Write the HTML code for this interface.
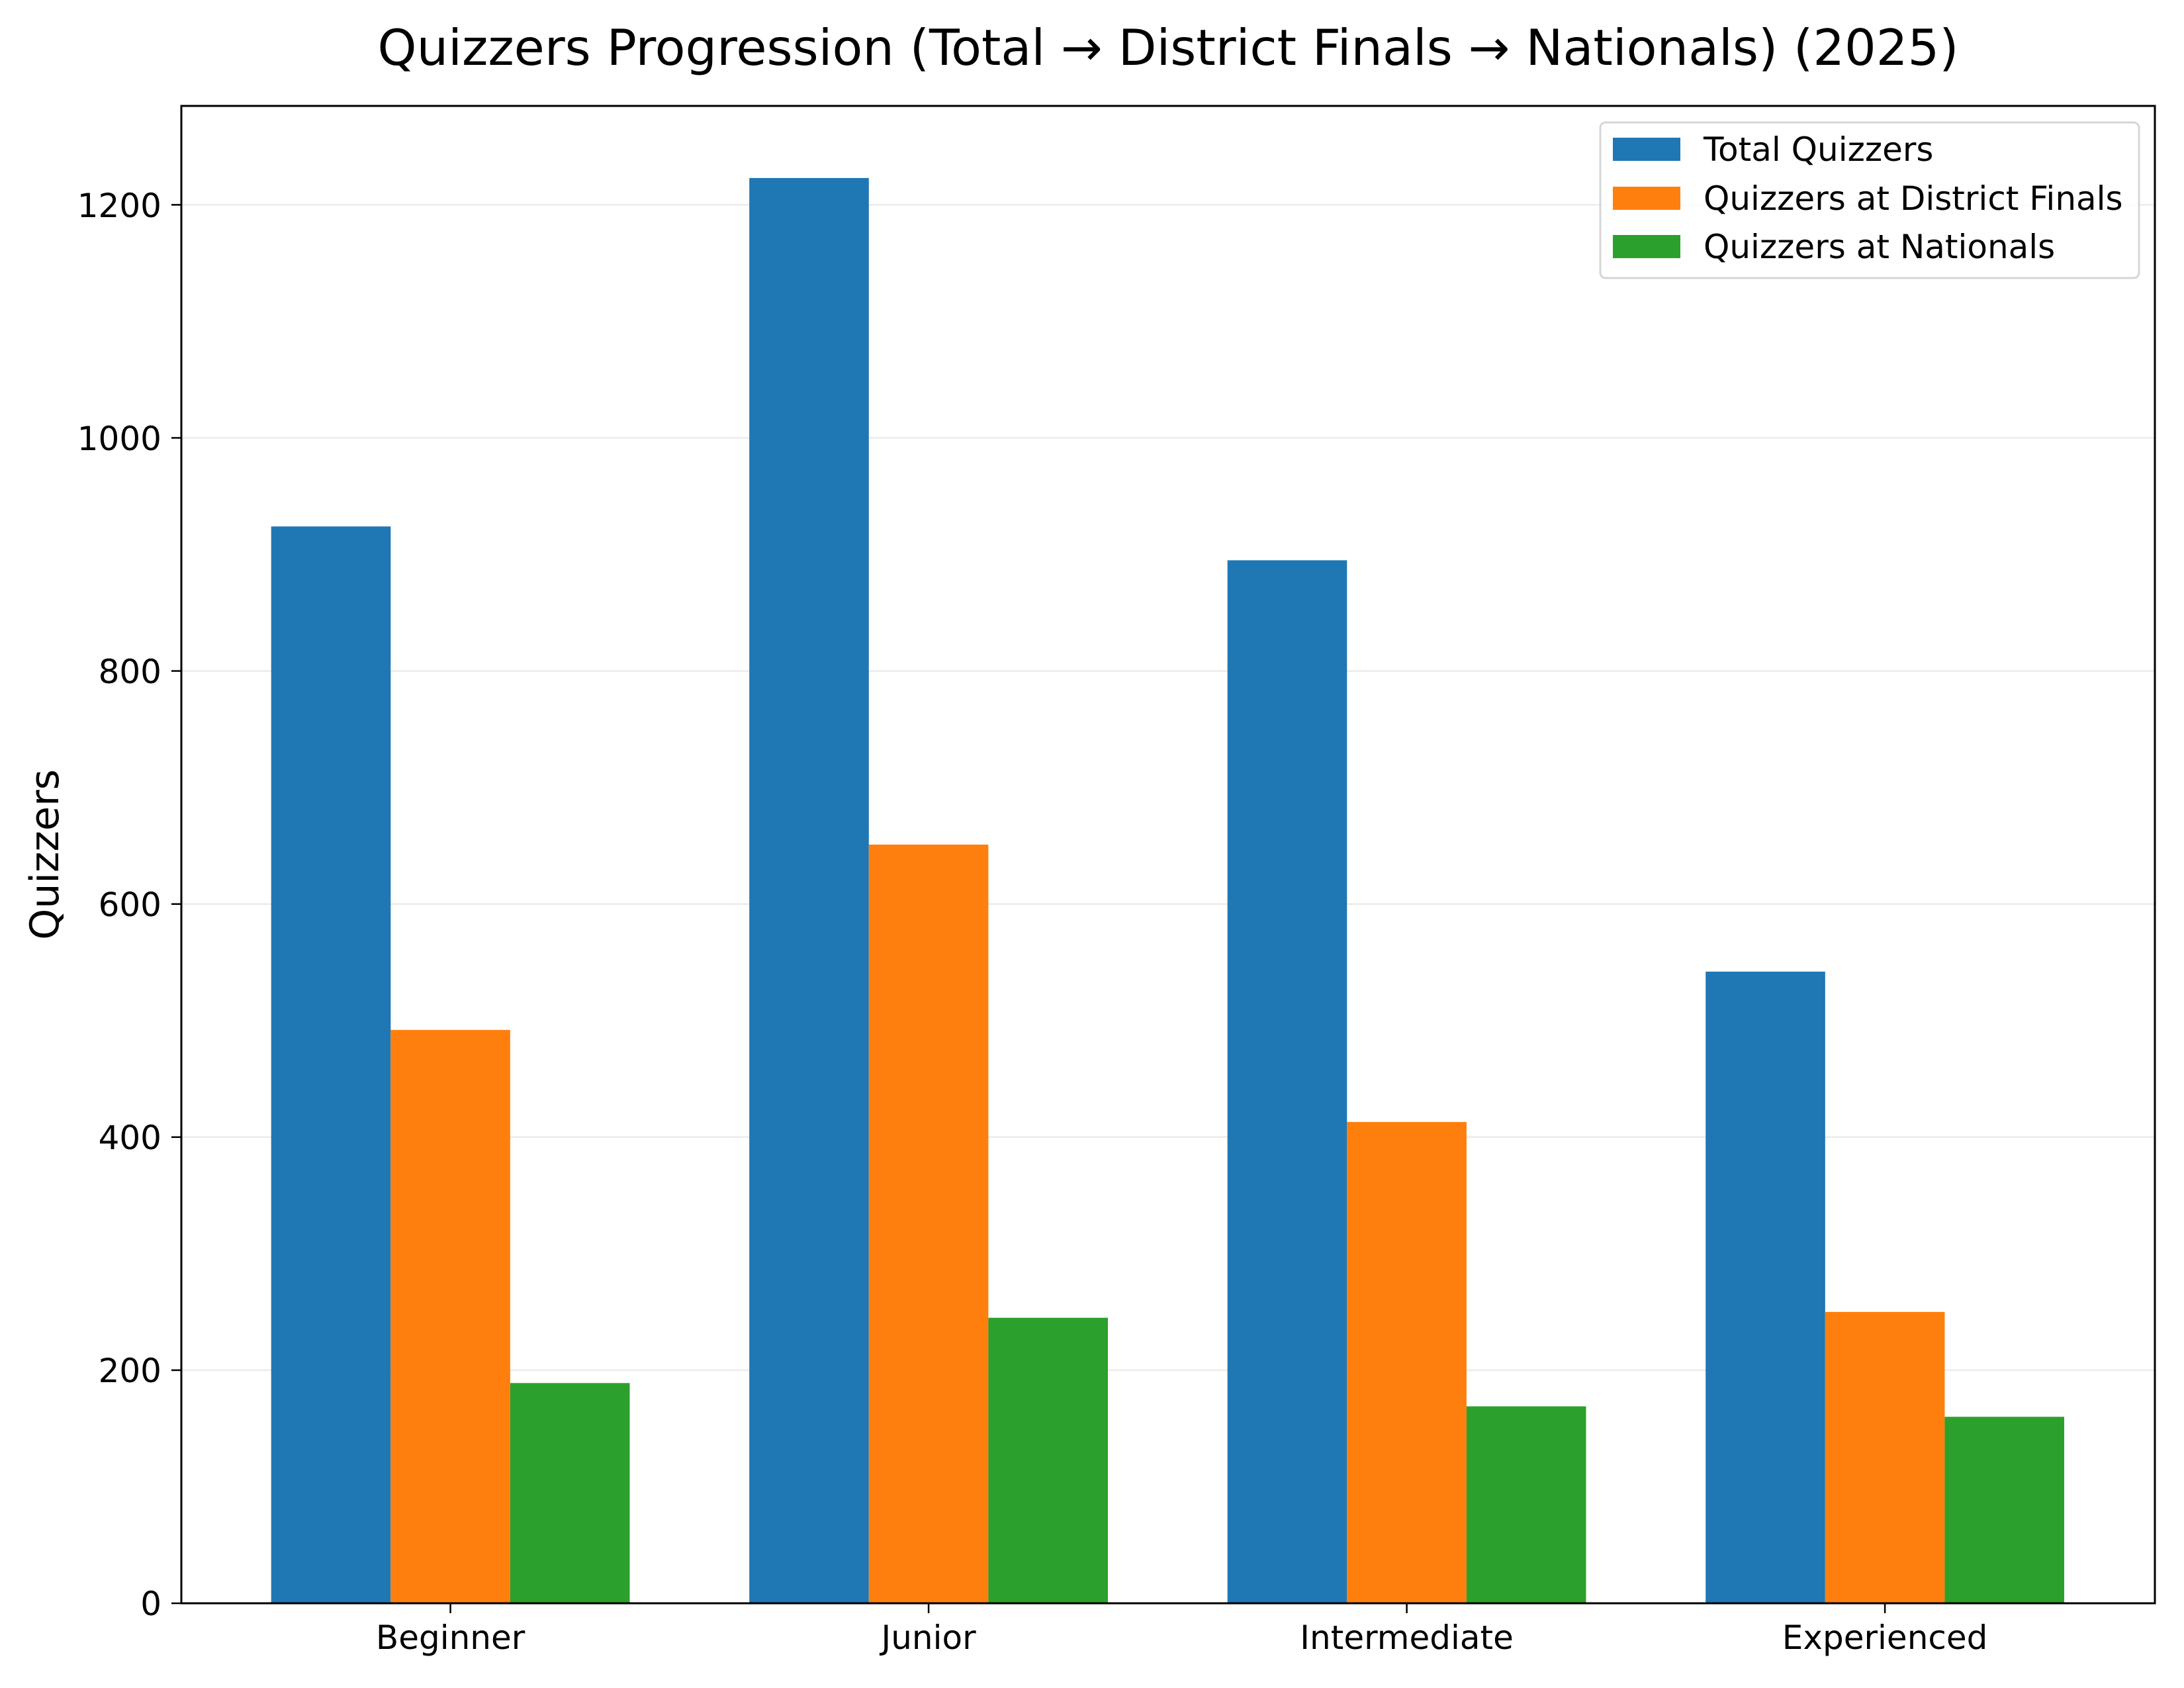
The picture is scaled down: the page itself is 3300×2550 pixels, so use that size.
<!DOCTYPE html>
<html><head><meta charset="utf-8"><style>html,body{margin:0;padding:0;background:#fff}svg{display:block}text{font-family:"DejaVu Sans","Liberation Sans",sans-serif;fill:#000}</style></head>
<body>
<svg width="3300" height="2550" viewBox="0 0 3300 2550" xmlns="http://www.w3.org/2000/svg">
<rect width="3300" height="2550" fill="#fff"/>
<g stroke="#ebebeb" stroke-width="2.5">
<line x1="274" x2="3256" y1="2069.9" y2="2069.9"/>
<line x1="274" x2="3256" y1="1717.8" y2="1717.8"/>
<line x1="274" x2="3256" y1="1365.7" y2="1365.7"/>
<line x1="274" x2="3256" y1="1013.6" y2="1013.6"/>
<line x1="274" x2="3256" y1="661.5" y2="661.5"/>
<line x1="274" x2="3256" y1="309.4" y2="309.4"/>
</g>
<g>
<rect x="409.7" y="795.3" width="180.6" height="1626.7" fill="#1f77b4"/>
<rect x="590.3" y="1555.8" width="180.6" height="866.2" fill="#ff7f0e"/>
<rect x="770.9" y="2089.3" width="180.6" height="332.7" fill="#2ca02c"/>
<rect x="1132.2" y="268.9" width="180.6" height="2153.1" fill="#1f77b4"/>
<rect x="1312.8" y="1275.9" width="180.6" height="1146.1" fill="#ff7f0e"/>
<rect x="1493.4" y="1990.7" width="180.6" height="431.3" fill="#2ca02c"/>
<rect x="1854.7" y="846.4" width="180.6" height="1575.6" fill="#1f77b4"/>
<rect x="2035.3" y="1694.9" width="180.6" height="727.1" fill="#ff7f0e"/>
<rect x="2215.9" y="2124.5" width="180.6" height="297.5" fill="#2ca02c"/>
<rect x="2577.2" y="1467.8" width="180.6" height="954.2" fill="#1f77b4"/>
<rect x="2757.8" y="1981.9" width="180.6" height="440.1" fill="#ff7f0e"/>
<rect x="2938.4" y="2140.3" width="180.6" height="281.7" fill="#2ca02c"/>
</g>
<rect x="274" y="160" width="2982" height="2262" fill="none" stroke="#000" stroke-width="3"/>
<g stroke="#000" stroke-width="2.5">
<line x1="259" x2="274" y1="2422" y2="2422"/>
<line x1="259" x2="274" y1="2069.9" y2="2069.9"/>
<line x1="259" x2="274" y1="1717.8" y2="1717.8"/>
<line x1="259" x2="274" y1="1365.7" y2="1365.7"/>
<line x1="259" x2="274" y1="1013.6" y2="1013.6"/>
<line x1="259" x2="274" y1="661.5" y2="661.5"/>
<line x1="259" x2="274" y1="309.4" y2="309.4"/>
<line x1="680.6" x2="680.6" y1="2422" y2="2437"/>
<line x1="1403.1" x2="1403.1" y1="2422" y2="2437"/>
<line x1="2125.6" x2="2125.6" y1="2422" y2="2437"/>
<line x1="2848.1" x2="2848.1" y1="2422" y2="2437"/>
</g>
<g font-size="50" text-anchor="end">
<text x="244" y="2440">0</text>
<text x="244" y="2088">200</text>
<text x="244" y="1736">400</text>
<text x="244" y="1384">600</text>
<text x="244" y="1032">800</text>
<text x="244" y="680">1000</text>
<text x="244" y="328">1200</text>
</g>
<g font-size="50" text-anchor="middle">
<text x="680.6" y="2491">Beginner</text>
<text x="1403.1" y="2491">Junior</text>
<text x="2125.6" y="2491">Intermediate</text>
<text x="2848.1" y="2491">Experienced</text>
</g>
<text x="88" y="1291" font-size="60" text-anchor="middle" transform="rotate(-90 88 1291)">Quizzers</text>
<text x="1765" y="98" font-size="75" text-anchor="middle">Quizzers Progression (Total → District Finals → Nationals) (2025)</text>
<rect x="2418" y="185" width="814" height="235" rx="8" fill="#fff" fill-opacity="0.8" stroke="#d6d6d6" stroke-width="3"/>
<rect x="2437" y="208" width="102" height="35" fill="#1f77b4"/>
<rect x="2437" y="282" width="102" height="35" fill="#ff7f0e"/>
<rect x="2437" y="355" width="102" height="35" fill="#2ca02c"/>
<g font-size="50">
<text x="2574" y="243">Total Quizzers</text>
<text x="2574" y="317">Quizzers at District Finals</text>
<text x="2574" y="390">Quizzers at Nationals</text>
</g>
</svg>
</body></html>
